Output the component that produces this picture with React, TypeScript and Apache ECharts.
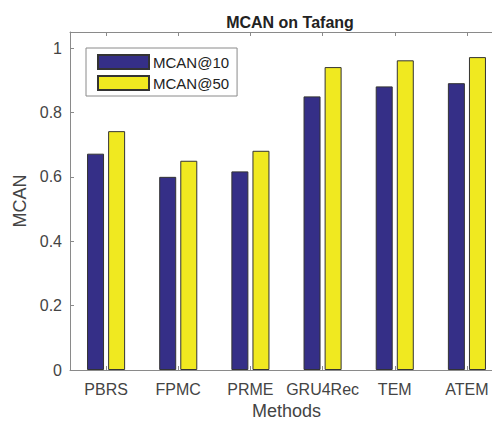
import React, { useEffect, useRef } from "react";
import * as echarts from "echarts";

const categories = ["PBRS", "FPMC", "PRME", "GRU4Rec", "TEM", "ATEM"];
const mcan10 = [0.672, 0.6, 0.617, 0.85, 0.881, 0.891];
const mcan50 = [0.742, 0.65, 0.681, 0.941, 0.962, 0.972];
const yTicks = [0, 0.2, 0.4, 0.6, 0.8, 1];

const FONT = "'Liberation Sans', Arial, Helvetica, sans-serif";
const AXIS_COLOR = "#8a8a8a";
const TEXT_COLOR = "#444444";

export default function App() {
  const ref = useRef<HTMLDivElement>(null);
  useEffect(() => {
    if (!ref.current) return;
    const chart = echarts.init(ref.current, undefined, { renderer: "svg" });
    chart.setOption({
      animation: false,
      backgroundColor: "#ffffff",
      textStyle: { fontFamily: FONT },
      title: {
        text: "MCAN on Tafang",
        left: 285,
        top: 9,
        textAlign: "center",
        textStyle: { fontFamily: FONT, fontSize: 16, fontWeight: "bold", color: "#222" },
      },
      legend: {
        orient: "vertical",
        left: 86,
        top: 48,
        padding: [6, 8, 5, 11],
        itemGap: 5,
        itemWidth: 51,
        itemHeight: 14,
        icon: "rect",
        borderColor: "#8a8a8a",
        borderWidth: 1,
        backgroundColor: "#fff",
        textStyle: { fontFamily: FONT, fontSize: 15, color: "#222", padding: [0, 0, 0, -1] },
        data: ["MCAN@10", "MCAN@50"],
      },
      grid: { left: 70, top: 32, right: 17, bottom: 51, show: false, containLabel: false, outerBoundsMode: "none" },
      xAxis: [
        {
          type: "category",
          data: categories,
          position: "bottom",
          name: "Methods",
          nameLocation: "middle",
          nameGap: 32,
          nameTextStyle: { fontFamily: FONT, fontSize: 18, lineHeight: 18, color: TEXT_COLOR },
          axisLine: { lineStyle: { color: AXIS_COLOR, width: 1 } },
          axisTick: { show: true, inside: true, length: 4, alignWithLabel: true, interval: 0, lineStyle: { color: AXIS_COLOR } },
          axisLabel: { fontFamily: FONT, fontSize: 16, color: TEXT_COLOR, margin: 11, interval: 0 },
          splitLine: { show: false },
        },
        {
          type: "category",
          data: categories,
          position: "top",
          axisLine: { lineStyle: { color: AXIS_COLOR, width: 1 } },
          axisTick: { show: true, inside: true, length: 4, alignWithLabel: true, interval: 0, lineStyle: { color: AXIS_COLOR } },
          axisLabel: { show: false },
          splitLine: { show: false },
        },
      ],
      yAxis: {
        type: "value",
        min: 0,
        max: 1.05,
        interval: 0.2,
        name: "MCAN",
        nameLocation: "middle",
        nameGap: 37,
        nameTextStyle: { fontFamily: FONT, fontSize: 18, color: TEXT_COLOR },
        axisLine: { show: true, lineStyle: { color: AXIS_COLOR, width: 1 } },
        axisTick: { show: true, inside: true, length: 4, customValues: yTicks, lineStyle: { color: AXIS_COLOR } },
        axisLabel: { fontFamily: FONT, fontSize: 16, color: TEXT_COLOR, margin: 8, customValues: yTicks },
        splitLine: { show: false },
      },
      series: [
        {
          name: "MCAN@10",
          type: "bar",
          data: mcan10,
          barWidth: 17,
          barGap: "24%",
          itemStyle: { color: "#352f87", borderColor: "#333333", borderWidth: 1 },
        },
        {
          name: "MCAN@50",
          type: "bar",
          data: mcan50,
          barWidth: 17,
          barGap: "24%",
          itemStyle: { color: "#f0e920", borderColor: "#333333", borderWidth: 1 },
        },
      ],
    });
    return () => chart.dispose();
  }, []);
  return (
    <div style={{ position: "fixed", left: 0, top: 0, width: 492, height: 421, overflow: "hidden", background: "#fff" }}>
      <div ref={ref} style={{ width: 520, height: 421 }} />
    </div>
  );
}
